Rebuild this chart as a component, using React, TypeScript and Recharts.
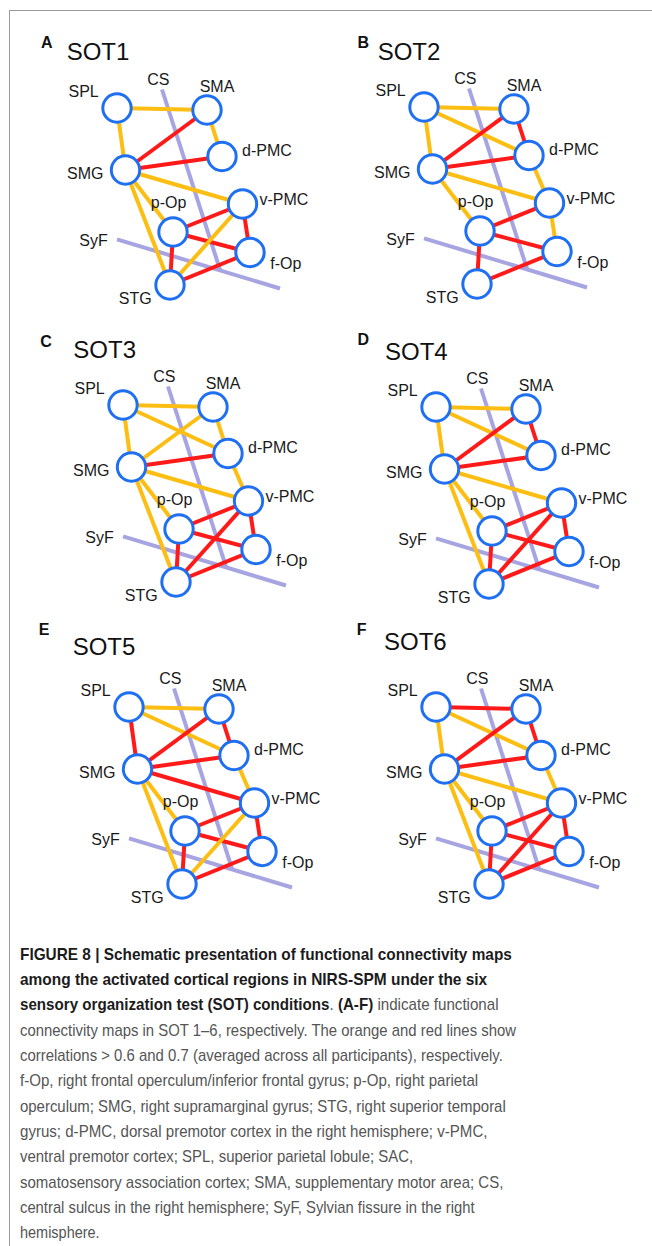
import React, { useLayoutEffect, useRef, useState } from "react"
import { ScatterChart, Scatter, XAxis, YAxis } from "recharts"

// regions, coordinates relative to SPL (diagram units ~ px)
const REGIONS = ["SPL", "SMA", "d-PMC", "SMG", "v-PMC", "p-Op", "f-Op", "STG"]
const REGION_X = [0, 90, 105, 8.5, 125.5, 56, 133, 53]
const REGION_Y = [0, 2, 48.5, 62, 96, 124, 144.5, 177]

// sulci
const CS_X = [45, 103]
const CS_Y = [-18.5, 161.7]
const SYF_X = [0, 163]
const SYF_Y = [131.3, 180.5]

const PANEL_LETTERS = ["A", "B", "C", "D", "E", "F"]
const PANEL_TITLES = ["SOT1", "SOT2", "SOT3", "SOT4", "SOT5", "SOT6"]

// [from, to, correlation threshold]
type Edge = [string, string, number]

const SOT1: Edge[] = [
  ["SPL", "SMA", 0.6], ["SPL", "SMG", 0.6], ["SMA", "SMG", 0.7], ["SMA", "d-PMC", 0.6],
  ["SMG", "d-PMC", 0.7], ["SMG", "v-PMC", 0.6], ["SMG", "p-Op", 0.6], ["SMG", "STG", 0.6],
  ["p-Op", "v-PMC", 0.7], ["p-Op", "f-Op", 0.7], ["p-Op", "STG", 0.7], ["v-PMC", "f-Op", 0.7],
  ["v-PMC", "STG", 0.6], ["STG", "f-Op", 0.7],
]
const SOT2: Edge[] = [
  ["SPL", "SMA", 0.6], ["SPL", "SMG", 0.6], ["SPL", "d-PMC", 0.6], ["SMA", "SMG", 0.7],
  ["SMA", "d-PMC", 0.7], ["SMG", "d-PMC", 0.7], ["SMG", "v-PMC", 0.6], ["SMG", "p-Op", 0.6],
  ["d-PMC", "v-PMC", 0.6], ["p-Op", "v-PMC", 0.7], ["p-Op", "f-Op", 0.7], ["p-Op", "STG", 0.7],
  ["v-PMC", "f-Op", 0.6], ["STG", "f-Op", 0.7],
]
const SOT3: Edge[] = [
  ["SPL", "SMA", 0.6], ["SPL", "SMG", 0.6], ["SPL", "d-PMC", 0.6], ["SMA", "SMG", 0.6],
  ["SMA", "d-PMC", 0.6], ["SMG", "d-PMC", 0.7], ["SMG", "v-PMC", 0.6], ["SMG", "p-Op", 0.6],
  ["SMG", "STG", 0.6], ["d-PMC", "v-PMC", 0.6], ["p-Op", "v-PMC", 0.7], ["p-Op", "f-Op", 0.7],
  ["p-Op", "STG", 0.7], ["v-PMC", "f-Op", 0.7], ["v-PMC", "STG", 0.7], ["STG", "f-Op", 0.7],
]
const SOT4: Edge[] = [
  ["SPL", "SMA", 0.6], ["SPL", "SMG", 0.6], ["SPL", "d-PMC", 0.6], ["SMA", "SMG", 0.7],
  ["SMA", "d-PMC", 0.7], ["SMG", "d-PMC", 0.7], ["SMG", "v-PMC", 0.6], ["SMG", "p-Op", 0.6],
  ["SMG", "STG", 0.6], ["p-Op", "v-PMC", 0.7], ["p-Op", "f-Op", 0.7], ["p-Op", "STG", 0.7],
  ["v-PMC", "f-Op", 0.7], ["v-PMC", "STG", 0.7], ["STG", "f-Op", 0.7],
]
const SOT5: Edge[] = [
  ["SPL", "SMA", 0.6], ["SPL", "SMG", 0.7], ["SPL", "d-PMC", 0.6], ["SMA", "SMG", 0.7],
  ["SMA", "d-PMC", 0.7], ["SMG", "d-PMC", 0.7], ["SMG", "v-PMC", 0.7], ["SMG", "p-Op", 0.6],
  ["SMG", "STG", 0.6], ["d-PMC", "v-PMC", 0.6], ["p-Op", "v-PMC", 0.7], ["p-Op", "f-Op", 0.7],
  ["p-Op", "STG", 0.7], ["v-PMC", "f-Op", 0.7], ["v-PMC", "STG", 0.6], ["STG", "f-Op", 0.7],
]
const SOT6: Edge[] = [
  ["SPL", "SMA", 0.7], ["SPL", "SMG", 0.6], ["SPL", "d-PMC", 0.6], ["SMA", "SMG", 0.7],
  ["SMA", "d-PMC", 0.7], ["SMG", "d-PMC", 0.7], ["SMG", "v-PMC", 0.6], ["SMG", "p-Op", 0.6],
  ["SMG", "STG", 0.6], ["d-PMC", "v-PMC", 0.6], ["p-Op", "v-PMC", 0.7], ["p-Op", "f-Op", 0.7],
  ["p-Op", "STG", 0.7], ["v-PMC", "f-Op", 0.7], ["v-PMC", "STG", 0.7], ["STG", "f-Op", 0.7],
]
const SOT_EDGES = [SOT1, SOT2, SOT3, SOT4, SOT5, SOT6]

// ---- layout (page px) ----
const PANEL_SPL = [
  [116.7, 108.3], [424.3, 107.3],
  [123.3, 405], [436, 406.7],
  [129.3, 707.3], [436, 707.3],
]
const LETTER_POS = [[46.7, 43.3], [363.3, 43.3], [46, 341.7], [363.3, 340], [44, 630], [361.7, 630]]
const TITLE_POS = [[66.7, 51.7], [377.7, 51.7], [73.3, 350], [385, 351.7], [72.7, 646.7], [384, 641.7]]

const LABELS: Record<string, { dx: number; dy: number; anchor: "start" | "middle" }> = {
  SPL: { dx: -33.4, dy: -16.6, anchor: "middle" },
  SMA: { dx: 10, dy: -23.6, anchor: "middle" },
  "d-PMC": { dx: 20, dy: -6, anchor: "start" },
  SMG: { dx: -40.2, dy: 3.7, anchor: "middle" },
  "v-PMC": { dx: 17, dy: -4.3, anchor: "start" },
  "p-Op": { dx: -4.4, dy: -29.6, anchor: "middle" },
  "f-Op": { dx: 20.3, dy: 10.5, anchor: "start" },
  STG: { dx: -34.7, dy: 13, anchor: "middle" },
}

const W = 280
const H = 290
const OFF_X = 70
const OFF_Y = 80

const FONT = "Liberation Sans, Arial, Helvetica, sans-serif"
const BLUE = "#1E6FF2"
const ORANGE = "#FCBE12"
const RED = "#FF1A1A"
const LAVENDER = "#A7A4E2"
const TEXT = "#1a1a1a"

const nodes = REGIONS.map((name, i) => ({ name, x: REGION_X[i], y: REGION_Y[i] }))
const nodeByName = (n: string) => nodes[REGIONS.indexOf(n)]

const hidden = () => <g />

function Panel({ index }: { index: number }) {
  const [sx, sy] = PANEL_SPL[index]
  const edges = SOT_EDGES[index]
  const cs = [{ x: CS_X[0], y: CS_Y[0] }, { x: CS_X[1], y: CS_Y[1] }]
  const syf = [{ x: SYF_X[0], y: SYF_Y[0] }, { x: SYF_X[1], y: SYF_Y[1] }]

  return (
    <div style={{ position: "absolute", left: sx - OFF_X, top: sy - OFF_Y }}>
      <ScatterChart width={W} height={H} margin={{ top: 0, right: 0, bottom: 0, left: 0 }}>
        <XAxis type="number" dataKey="x" domain={[-OFF_X, W - OFF_X]} allowDataOverflow hide />
        <YAxis type="number" dataKey="y" domain={[-OFF_Y, H - OFF_Y]} allowDataOverflow reversed hide />

        <Scatter data={cs} shape={hidden} line={{ stroke: LAVENDER, strokeWidth: 4 }} isAnimationActive={false} />
        <Scatter data={syf} shape={hidden} line={{ stroke: LAVENDER, strokeWidth: 4 }} isAnimationActive={false} />

        {edges.map(([a, b, r]) => (
          <Scatter
            key={a + b}
            data={[nodeByName(a), nodeByName(b)]}
            shape={hidden}
            line={{ stroke: r >= 0.7 ? RED : ORANGE, strokeWidth: 4 }}
            isAnimationActive={false}
          />
        ))}

        <Scatter
          data={nodes}
          isAnimationActive={false}
          shape={(p: any) => (
            <g>
              <circle cx={p.cx} cy={p.cy} r={14.2} fill="#fff" stroke={BLUE} strokeWidth={3} />
              <text
                x={p.cx + LABELS[p.payload.name].dx}
                y={p.cy + LABELS[p.payload.name].dy}
                dy="0.36em"
                textAnchor={LABELS[p.payload.name].anchor}
                fontFamily={FONT}
                fontSize={16}
                fill={TEXT}
              >
                {p.payload.name}
              </text>
            </g>
          )}
        />

        <Scatter
          data={[
            { name: "CS", x: CS_X[0], y: CS_Y[0] },
            { name: "SyF", x: SYF_X[0], y: SYF_Y[0] },
          ]}
          isAnimationActive={false}
          shape={(p: any) => {
            const off = p.payload.name === "CS" ? [-3.7, -9.8] : [-23.4, 1.1]
            return (
              <text x={p.cx + off[0]} y={p.cy + off[1]} dy="0.36em" textAnchor="middle" fontFamily={FONT} fontSize={16} fill={TEXT}>
                {p.payload.name}
              </text>
            )
          }}
        />
      </ScatterChart>
    </div>
  )
}

// caption: each line is a list of [text, bold]; target widths
type Seg = [string, boolean]
const CAPTION_LINES: Seg[][] = [
  [["FIGURE 8 | Schematic presentation of functional connectivity maps", true]],
  [["among the activated cortical regions in NIRS-SPM under the six", true]],
  [
    ["sensory organization test (SOT) conditions", true],
    [". ", false],
    ["(A-F)", true],
    [" indicate functional", false],
  ],
  [["connectivity maps in SOT 1–6, respectively. The orange and red lines show", false]],
  [["correlations > 0.6 and 0.7 (averaged across all participants), respectively.", false]],
  [["f-Op, right frontal operculum/inferior frontal gyrus; p-Op, right parietal", false]],
  [["operculum; SMG, right supramarginal gyrus; STG, right superior temporal", false]],
  [["gyrus; d-PMC, dorsal premotor cortex in the right hemisphere; v-PMC,", false]],
  [["ventral premotor cortex; SPL, superior parietal lobule; SAC,", false]],
  [["somatosensory association cortex; SMA, supplementary motor area; CS,", false]],
  [["central sulcus in the right hemisphere; SyF, Sylvian fissure in the right", false]],
  [["hemisphere.", false]],
]
const CAPTION_WIDTHS = [491.7, 467.3, 479, 496, 482.7, 458.3, 486, 467.3, 393.3, 483.3, 455, 80]

function CaptionLine({ segs, width, top }: { segs: Seg[]; width: number; top: number }) {
  const ref = useRef<HTMLDivElement>(null)
  const [k, setK] = useState(0.85)
  useLayoutEffect(() => {
    const w = ref.current?.scrollWidth
    if (w) setK(width / w)
  }, [width])
  return (
    <div
      ref={ref}
      style={{
        position: "absolute", left: 20, top, whiteSpace: "nowrap", transform: `scaleX(${k})`,
        transformOrigin: "0 0", fontFamily: FONT, fontSize: 17, lineHeight: "25.3px", color: "#555",
      }}
    >
      {segs.map(([t, bold], j) => (
        <span key={j} style={bold ? { fontWeight: 700, color: "#1c1c1c" } : undefined}>{t}</span>
      ))}
    </div>
  )
}

export default function App() {
  return (
    <div style={{ position: "absolute", left: 0, top: 0, width: 652, height: 1246, background: "#fff", overflow: "hidden" }}>
      <div
        style={{
          position: "absolute", left: 9, top: 10, width: 652, height: 1246,
          borderTop: "1.5px solid #9a9a9a", borderLeft: "1.5px solid #9a9a9a",
        }}
      />
      {PANEL_LETTERS.map((letter, i) => (
        <React.Fragment key={letter}>
          <div
            style={{
              position: "absolute", left: LETTER_POS[i][0] - 10, top: LETTER_POS[i][1] - 10, width: 20,
              lineHeight: "20px", textAlign: "center", fontFamily: FONT, fontWeight: 700, fontSize: 16, color: "#111",
            }}
          >
            {letter}
          </div>
          <div
            style={{
              position: "absolute", left: TITLE_POS[i][0], top: TITLE_POS[i][1] - 15,
              lineHeight: "30px", fontFamily: FONT, fontSize: 24, color: "#111",
            }}
          >
            {PANEL_TITLES[i]}
          </div>
        </React.Fragment>
      ))}
      {PANEL_TITLES.map((t, i) => <Panel key={t} index={i} />)}
      {CAPTION_LINES.map((segs, i) => (
        <CaptionLine key={i} segs={segs} width={CAPTION_WIDTHS[i]} top={941.8 + 25.3 * i} />
      ))}
    </div>
  )
}
